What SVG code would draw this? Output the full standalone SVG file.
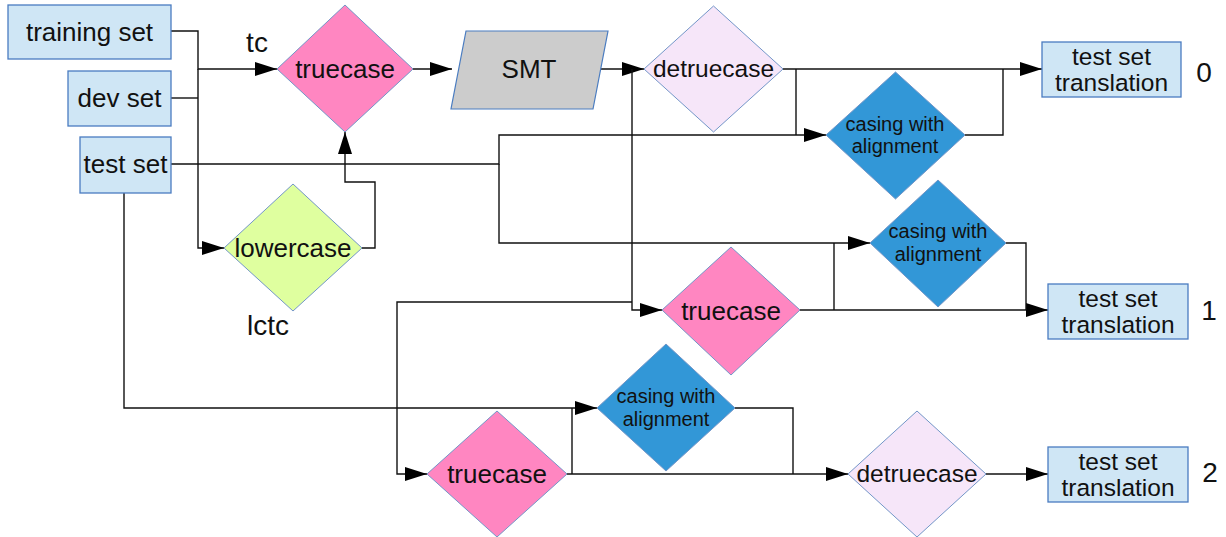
<svg xmlns="http://www.w3.org/2000/svg" width="1226" height="537" viewBox="0 0 1226 537">
  <defs>
    <marker id="arrow" markerUnits="userSpaceOnUse" markerWidth="22" markerHeight="14" refX="22" refY="7" orient="auto">
      <path d="M0,0 L22,7 L0,14 z" fill="#000"/>
    </marker>
    <style>
      text { font-family: "Liberation Sans", Arial, sans-serif; fill: #111; text-anchor: middle; }
      .box { fill: #cfe6f5; stroke: #4a7cc0; stroke-width: 1.3; }
      .dia { stroke: #7396c8; stroke-width: 1; }
      .tc { fill: #ff86c1; }
      .dtc { fill: #f6e6f9; }
      .lc { fill: #dfff9f; }
      .cwa { fill: #3297d7; }
      .smt { fill: #cccccc; stroke: #4a7cc0; stroke-width: 1.2; }
      .big { font-size: 26px; }
      .mid { font-size: 24.5px; }
      .small { font-size: 20px; }
      .label { font-size: 28px; }
      .wire { fill: none; stroke: #111; stroke-width: 1.4; }
      .arr { marker-end: url(#arrow); }
    </style>
  </defs>

  <rect width="1226" height="537" fill="#ffffff"/>

  <!-- connectors -->
  <g id="connectors">
    <path class="wire arr" d="M171,31 H198 V69 H277"/>
    <path class="wire" d="M171,98 H198"/>
    <path class="wire arr" d="M198,69 V248 H224"/>
    <path class="wire arr" d="M362,248 H375 V182 H345 V132"/>
    <path class="wire arr" d="M413,69 H452"/>
    <path class="wire arr" d="M600,69 H644"/>
    <path class="wire arr" d="M783,69 H1042"/>
    <path class="wire arr" d="M171,164 H499 V135 H826"/>
    <path class="wire" d="M796,69 V135"/>
    <path class="wire arr" d="M499,164 V243 H870"/>
    <path class="wire" d="M965,135 H1003 V69"/>
    <path class="wire arr" d="M632,69 V310 H662"/>
    <path class="wire arr" d="M632,302 H397 V474 H427"/>
    <path class="wire arr" d="M800,310 H1048"/>
    <path class="wire" d="M834,310 V243"/>
    <path class="wire" d="M1006,243 H1026 V310"/>
    <path class="wire arr" d="M124,193 V408 H597"/>
    <path class="wire arr" d="M567,474 H848"/>
    <path class="wire" d="M572,474 V408"/>
    <path class="wire" d="M735,408 H793 V474"/>
    <path class="wire arr" d="M986,474 H1048"/>
  </g>

  <!-- inputs -->
  <g id="training-set">
    <rect class="box" x="8" y="5" width="163" height="54"/>
    <text class="big" x="89.5" y="41">training set</text>
  </g>
  <g id="dev-set">
    <rect class="box" x="68" y="71" width="103" height="55"/>
    <text class="big" x="119.5" y="107">dev set</text>
  </g>
  <g id="test-set">
    <rect class="box" x="80" y="137" width="91" height="56"/>
    <text class="big" x="125.5" y="173">test set</text>
  </g>

  <!-- top pipeline -->
  <g id="truecase-train">
    <polygon class="dia tc" points="277,69 345,5 413,69 345,132"/>
    <text class="big" x="345" y="78">truecase</text>
  </g>
  <g id="lowercase">
    <polygon class="dia lc" points="224,248 293,184 362,248 293,311"/>
    <text class="big" x="293" y="257">lowercase</text>
  </g>
  <g id="smt">
    <polygon class="smt" points="466,31 608,31 593,109 451,109"/>
    <text class="big" x="529" y="78">SMT</text>
  </g>
  <g id="detruecase-top">
    <polygon class="dia dtc" points="644,69 713.5,6 783,69 713.5,132"/>
    <text class="mid" x="713.5" y="77">detruecase</text>
  </g>
  <g id="casing-0">
    <polygon class="dia cwa" points="826,135 895.5,72 965,135 895.5,199"/>
    <text class="small"><tspan x="895" y="131">casing with</tspan><tspan x="895" y="153">alignment</tspan></text>
  </g>
  <g id="output-0">
    <rect class="box" x="1042" y="42" width="139" height="55"/>
    <text class="mid"><tspan x="1111.5" y="65">test set</tspan><tspan x="1111.5" y="91">translation</tspan></text>
  </g>

  <!-- middle pipeline -->
  <g id="casing-1">
    <polygon class="dia cwa" points="870,243 938,180 1006,243 938,307"/>
    <text class="small"><tspan x="938" y="238">casing with</tspan><tspan x="938" y="261">alignment</tspan></text>
  </g>
  <g id="truecase-mid">
    <polygon class="dia tc" points="662,310 731,247 800,310 731,375"/>
    <text class="big" x="731" y="320">truecase</text>
  </g>
  <g id="output-1">
    <rect class="box" x="1048" y="284" width="140" height="55"/>
    <text class="mid"><tspan x="1118" y="307">test set</tspan><tspan x="1118" y="333">translation</tspan></text>
  </g>

  <!-- bottom pipeline -->
  <g id="casing-2">
    <polygon class="dia cwa" points="597,408 666,344 735,408 666,471"/>
    <text class="small"><tspan x="666" y="403">casing with</tspan><tspan x="666" y="426">alignment</tspan></text>
  </g>
  <g id="truecase-bottom">
    <polygon class="dia tc" points="427,474 497,411 567,474 497,537"/>
    <text class="big" x="497" y="483">truecase</text>
  </g>
  <g id="detruecase-bottom">
    <polygon class="dia dtc" points="848,474 917,411 986,474 917,537"/>
    <text class="mid" x="917" y="482">detruecase</text>
  </g>
  <g id="output-2">
    <rect class="box" x="1048" y="447" width="140" height="55"/>
    <text class="mid"><tspan x="1118" y="470">test set</tspan><tspan x="1118" y="496">translation</tspan></text>
  </g>

  <!-- free labels -->
  <g id="labels">
    <text class="label" x="257" y="52">tc</text>
    <text class="label" x="268" y="335">lctc</text>
    <text class="label" x="1204" y="82">0</text>
    <text class="label" x="1209" y="320">1</text>
    <text class="label" x="1210" y="482">2</text>
  </g>
</svg>
